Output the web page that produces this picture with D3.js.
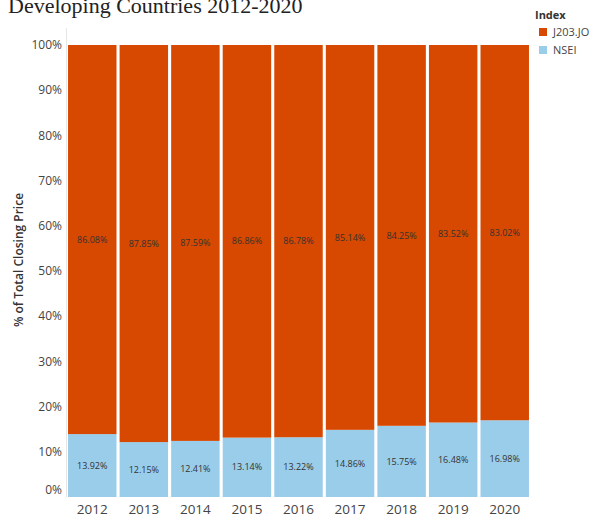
<!DOCTYPE html>
<html>
<head>
<meta charset="utf-8">
<script src="https://cdn.jsdelivr.net/npm/d3@7"></script>
<style>
  body { margin: 0; background: #fff; }
  svg { display: block; }
</style>
</head>
<body>
<svg id="chart" width="598" height="518"></svg>
<script>
// data
var years = ["2012", "2013", "2014", "2015", "2016", "2017", "2018", "2019", "2020"];
var nsei = [13.92, 12.15, 12.41, 13.14, 13.22, 14.86, 15.75, 16.48, 16.98];
var j203 = [86.08, 87.85, 87.59, 86.86, 86.78, 85.14, 84.25, 83.52, 83.02];
var yTicks = [0, 10, 20, 30, 40, 50, 60, 70, 80, 90, 100];
var seriesNames = ["J203.JO", "NSEI"];
var colors = {"J203.JO": "#d74800", "NSEI": "#9acdea"};

var svg = d3.select("#chart");
var margin = {top: 45, left: 67, right: 68, bottom: 21};
var width = 598, height = 518;

var x = d3.scaleBand()
  .domain(years)
  .range([margin.left, width - margin.right])
  .paddingInner(0.06)
  .paddingOuter(0.02);

var y = d3.scaleLinear()
  .domain([0, 100])
  .range([height - margin.bottom, margin.top]);

// title (cut off at the top, as in the source)
svg.append("text")
  .attr("x", 8)
  .attr("y", 13)
  .style("font-family", "'Liberation Serif', 'DejaVu Serif', serif")
  .style("font-size", "22px")
  .attr("fill", "#222")
  .text("Developing Countries 2012-2020");

// faint left border line
svg.append("line")
  .attr("x1", margin.left - 0.5).attr("x2", margin.left - 0.5)
  .attr("y1", 28).attr("y2", y(0))
  .attr("stroke", "#e6e6e6");

// y axis labels
svg.append("g").selectAll("text")
  .data(yTicks)
  .enter().append("text")
  .attr("x", 62)
  .attr("y", function(d) { return d === 0 ? y(d) - 7 : y(d); })
  .attr("dy", "0.35em")
  .attr("text-anchor", "end")
  .style("font-family", "'Open Sans', sans-serif")
  .style("font-size", "12px")
  .attr("fill", "#444")
  .text(function(d) { return d + "%"; });

// y title
svg.append("text")
  .attr("transform", "translate(23,260) rotate(-90)")
  .attr("text-anchor", "middle")
  .style("font-family", "'Open Sans', sans-serif")
  .style("font-size", "12px")
  .style("font-weight", "600")
  .attr("fill", "#333")
  .text("% of Total Closing Price");

// stacked bars
var rows = years.map(function(yr, i) { return {year: yr, "NSEI": nsei[i], "J203.JO": j203[i]}; });
var stack = d3.stack().keys(["NSEI", "J203.JO"]);
var layers = stack(rows);

var g = svg.append("g");
layers.forEach(function(layer) {
  var key = layer.key;
  g.selectAll(".bar-" + key.replace(".", ""))
    .data(layer)
    .enter().append("rect")
    .attr("x", function(d) { return x(d.data.year); })
    .attr("y", function(d) { return y(d[1]); })
    .attr("width", x.bandwidth())
    .attr("height", function(d) { return y(d[0]) - y(d[1]); })
    .attr("fill", colors[key]);

  g.selectAll(".lab-" + key.replace(".", ""))
    .data(layer)
    .enter().append("text")
    .attr("x", function(d) { return x(d.data.year) + x.bandwidth() / 2; })
    .attr("y", function(d) { return (y(d[0]) + y(d[1])) / 2; })
    .attr("dy", "0.35em")
    .attr("text-anchor", "middle")
    .style("font-family", "'Open Sans', sans-serif")
    .style("font-size", "9px")
    .attr("fill", "#333")
    .text(function(d) { return d.data[key].toFixed(2) + "%"; });
});

// x labels
svg.append("g").selectAll("text")
  .data(years)
  .enter().append("text")
  .attr("x", function(d) { return x(d) + x.bandwidth() / 2; })
  .attr("y", 514)
  .attr("text-anchor", "middle")
  .style("font-family", "'Open Sans', sans-serif")
  .style("font-size", "13.5px")
  .attr("fill", "#444")
  .text(function(d) { return d; });

// legend
var legend = svg.append("g").attr("transform", "translate(535,0)");
legend.append("text")
  .attr("x", 0).attr("y", 19)
  .style("font-family", "'Open Sans', sans-serif")
  .style("font-size", "11px")
  .style("font-weight", "700")
  .attr("fill", "#333")
  .text("Index");
seriesNames.forEach(function(s, i) {
  legend.append("rect")
    .attr("x", 4).attr("y", 28 + i * 18)
    .attr("width", 8).attr("height", 8)
    .attr("fill", colors[s]);
  legend.append("text")
    .attr("x", 18).attr("y", 32 + i * 18)
    .attr("dy", "0.35em")
    .style("font-family", "'Open Sans', sans-serif")
    .style("font-size", "11px")
    .attr("fill", "#444")
    .text(s);
});
</script>
</body>
</html>
